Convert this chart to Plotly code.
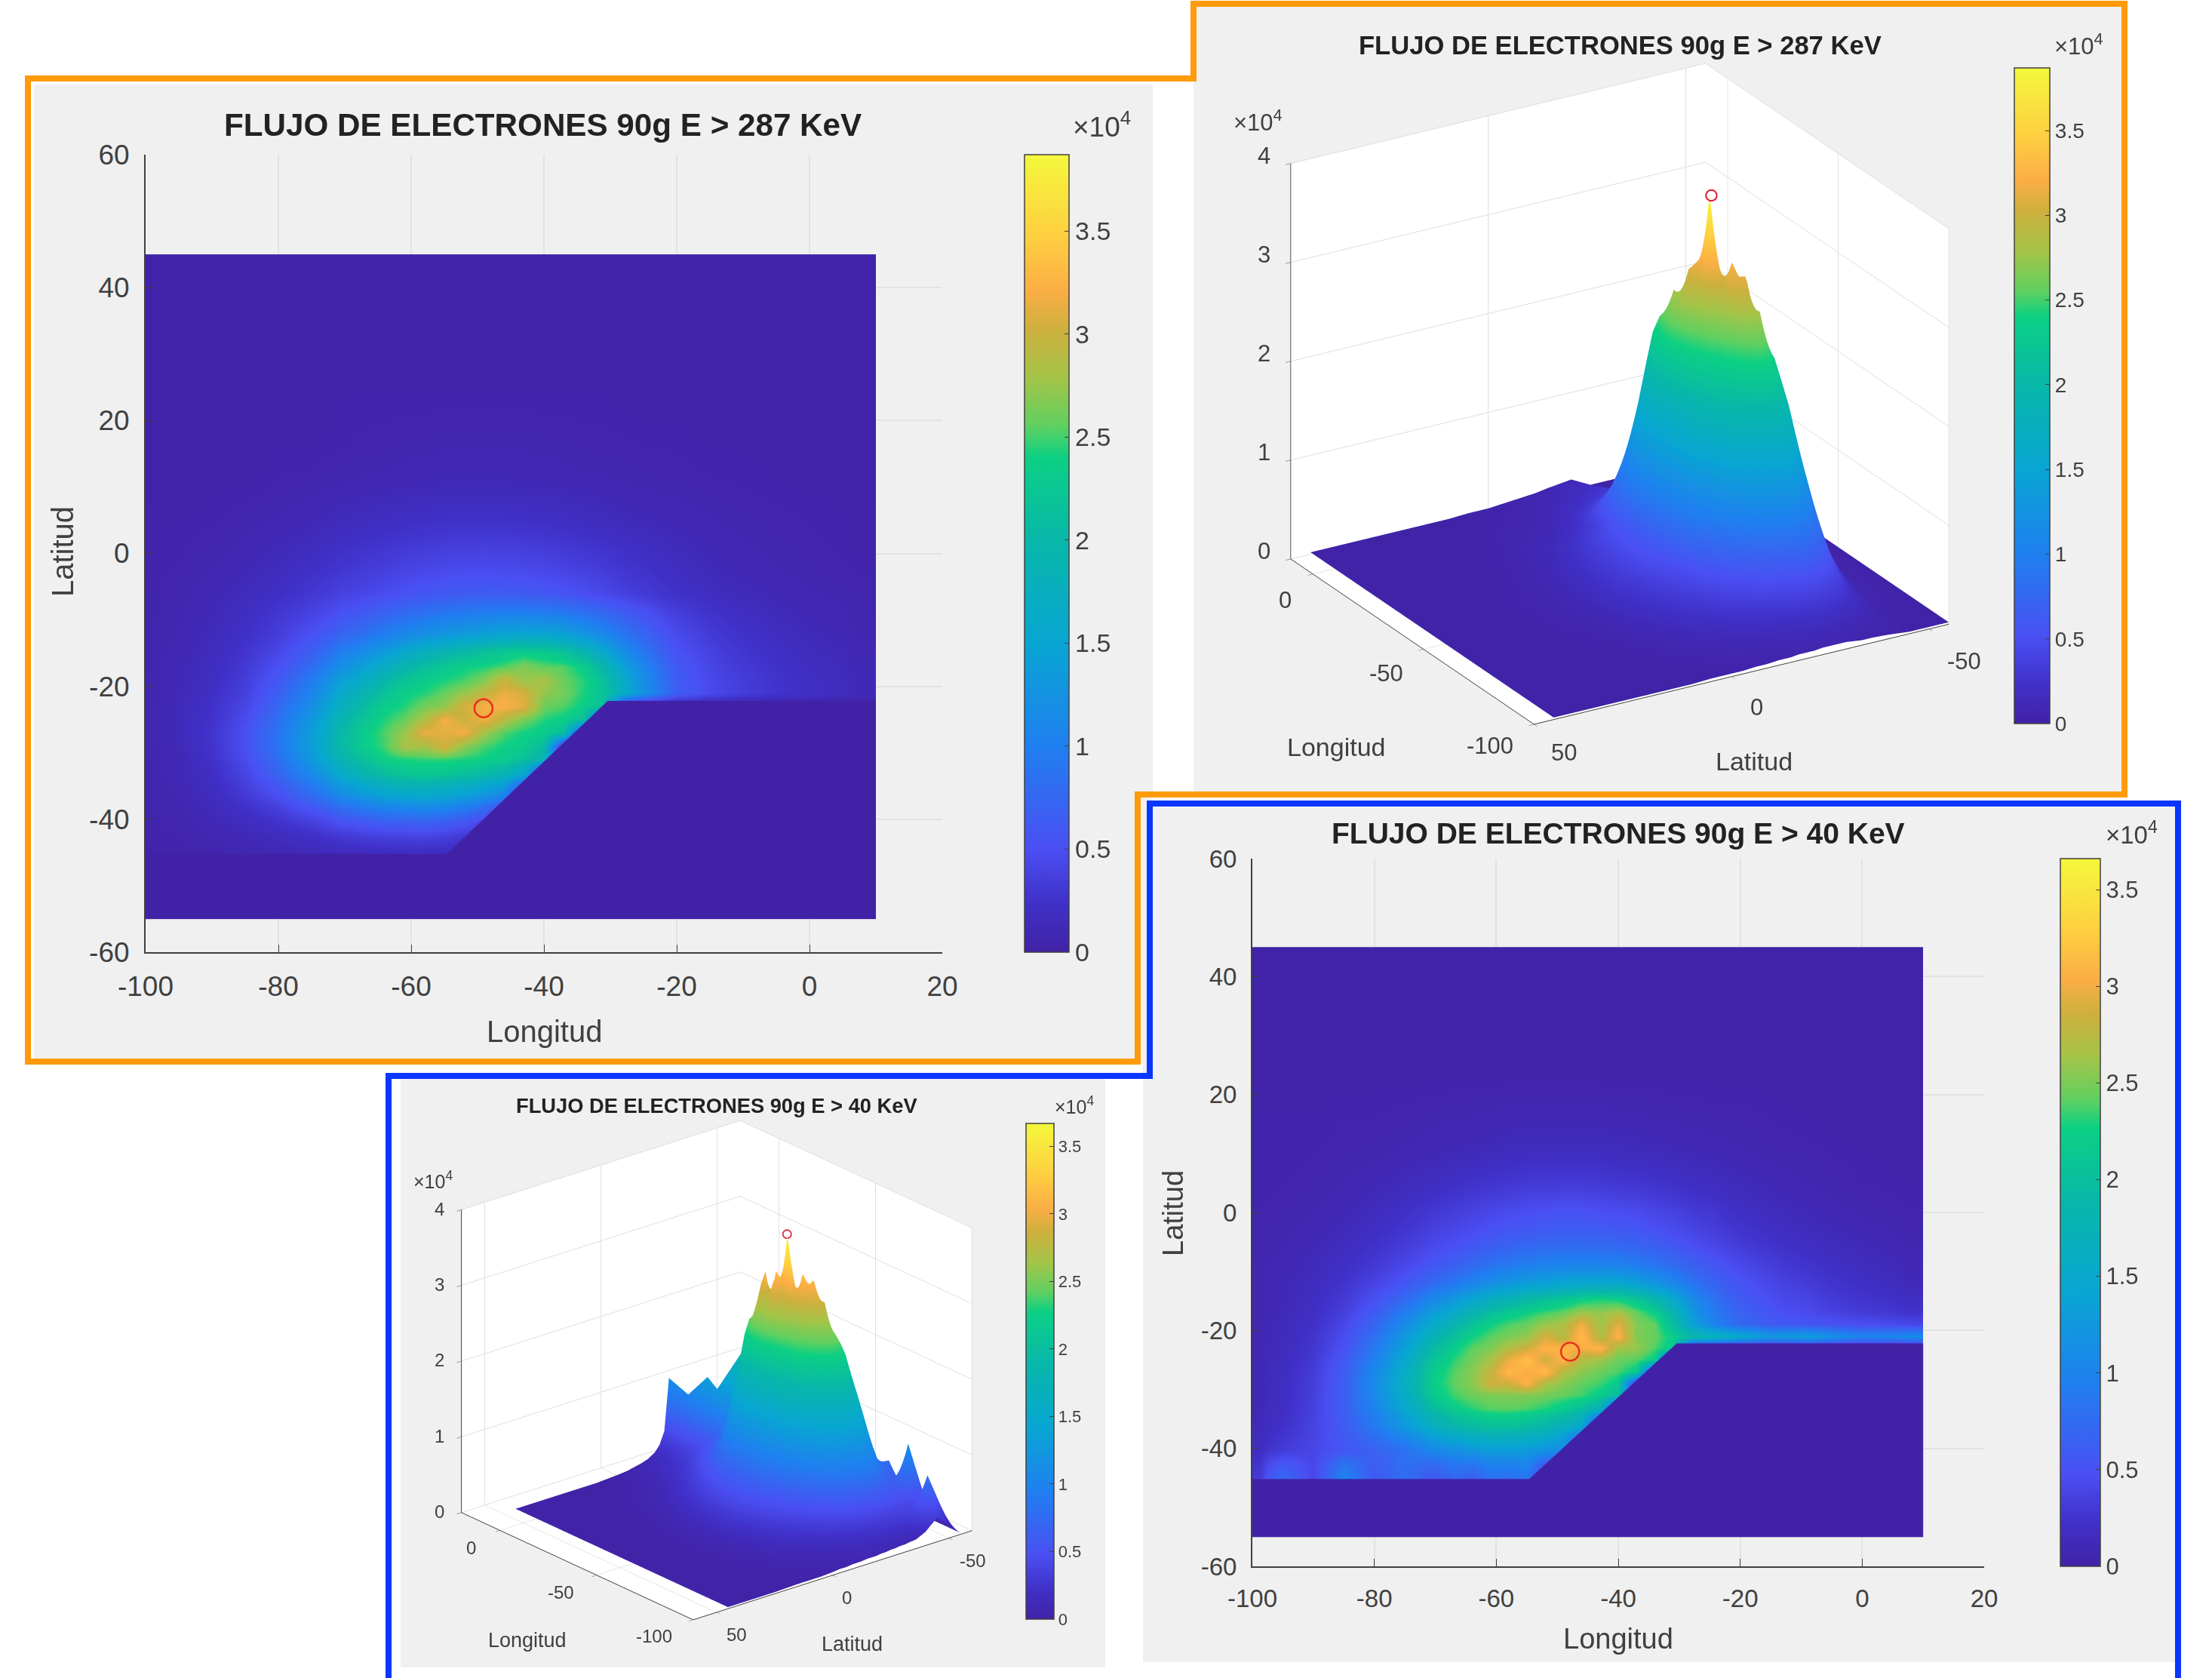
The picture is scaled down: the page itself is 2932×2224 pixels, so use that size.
import plotly.graph_objects as go

W, H = 2932, 2224
FLOOR = 0.02
lon = [-100,-95,-90,-85,-80,-75,-70,-67,-64,-61,-58,-55,-52,-49,-46,-43,-40,-37,-34,-31,-28,-25,-20,-15,-10,0,10]
lat = [45,35,25,15,10,5,0,-3,-6,-9,-12,-15,-17,-19,-21,-23,-25,-27,-29,-31,-33,-36,-40,-45,-55]

# Flux in units of 10^4; each row runs along lon, rows run along lat. Short rows end at the flat floor.
flux_287 = [
[],[],
[.02,.02,.02,.02,.02,.02,.03,.03,.03,.03,.03,.03,.03,.03,.03,.03,.03,.03,.03,.03,.02],
[.02,.02,.02,.02,.03,.03,.04,.05,.05,.06,.06,.07,.07,.07,.07,.07,.06,.06,.05,.05,.05,.04,.04,.03,.03],
[.02,.02,.03,.03,.05,.06,.08,.09,.10,.11,.12,.13,.13,.13,.13,.12,.12,.11,.10,.09,.08,.07,.06,.05,.04,.03],
[.03,.03,.04,.06,.08,.11,.15,.17,.19,.21,.22,.24,.24,.24,.24,.23,.22,.20,.18,.16,.14,.12,.10,.08,.06,.04,.03],
[.03,.04,.06,.09,.13,.18,.24,.27,.30,.33,.35,.37,.38,.39,.38,.37,.35,.33,.30,.27,.24,.20,.15,.11,.08,.05,.03],
[.03,.05,.08,.12,.17,.24,.31,.35,.39,.42,.46,.48,.50,.50,.49,.48,.46,.43,.39,.35,.30,.26,.19,.14,.10,.06,.04],
[.04,.06,.10,.15,.22,.30,.38,.43,.48,.53,.57,.61,.63,.64,.64,.62,.59,.55,.50,.44,.38,.32,.24,.18,.13,.08,.05],
[.04,.07,.12,.19,.29,.40,.54,.62,.72,.80,.86,.92,.96,1.00,1.02,1.02,1.00,.95,.86,.76,.64,.52,.36,.26,.18,.10,.06],
[.05,.08,.14,.23,.35,.52,.72,.85,.98,1.10,1.20,1.28,1.36,1.42,1.48,1.52,1.50,1.42,1.28,1.10,.90,.70,.46,.33,.23,.13,.07],
[.05,.09,.16,.27,.44,.68,1.00,1.18,1.38,1.58,1.76,1.92,2.04,2.16,2.26,2.32,2.28,2.16,1.92,1.58,1.20,.88,.54,.38,.27,.16,.09],
[.06,.10,.18,.31,.52,.82,1.22,1.46,1.70,1.92,2.12,2.26,2.38,2.42,2.52,2.66,2.55,2.52,2.32,1.96,1.46,1.04,.60,.42,.30,.18,.10],
[.06,.11,.19,.35,.60,.96,1.44,1.72,1.98,2.20,2.34,2.42,2.50,2.66,3.00,2.75,2.82,2.58,2.44,2.14,1.62,1.12,.64,.45,.32,.20,.11],
[.06,.12,.21,.38,.68,1.08,1.62,1.92,2.18,2.36,2.44,2.58,2.75,2.95,3.15,3.05,2.72,2.62,2.42,2.18,1.70,1.18,.66,.46,.33,.21,.12],
[.07,.13,.24,.42,.76,1.20,1.78,2.10,2.34,2.44,2.62,2.72,3.05,3.20,3.22,3.10,2.60,2.52,2.35,2.12],
[.07,.13,.25,.47,.84,1.32,1.94,2.24,2.44,2.58,2.85,3.20,3.00,3.18,2.90,2.62,2.44,2.35,2.12],
[.07,.13,.27,.51,.90,1.40,2.04,2.34,2.52,2.75,3.15,3.10,3.20,2.78,2.52,2.40,2.32,2.08],
[.07,.12,.26,.51,.90,1.42,2.04,2.34,2.50,2.82,2.80,3.05,2.70,2.50,2.40,2.32,2.05],
[.06,.11,.24,.47,.82,1.32,1.90,2.18,2.38,2.42,2.46,2.46,2.42,2.38,2.30,2.14,1.85],
[.05,.10,.21,.41,.72,1.14,1.64,1.92,2.10,2.22,2.26,2.22,2.14,2.02,1.86,1.55],
[.05,.08,.17,.32,.52,.82,1.18,1.38,1.52,1.60,1.62,1.56,1.46,1.30,1.10],
[.04,.06,.11,.17,.26,.38,.54,.62,.68,.70,.72,.68,.60,.42],
[.02,.03,.04,.05,.06,.07,.08,.08,.08,.08,.08,.07],
[],
]

flux_40 = [
[],[],[],
[.03,.03,.03,.04,.04,.05,.06,.07,.07,.08,.09,.09,.09,.09,.09,.09,.08,.08,.07,.06,.06,.05,.05,.04,.03],
[.03,.03,.04,.05,.06,.08,.10,.12,.13,.14,.16,.17,.17,.18,.18,.17,.16,.15,.14,.13,.11,.10,.08,.06,.05,.03],
[.03,.04,.05,.07,.10,.14,.18,.21,.24,.26,.28,.30,.31,.31,.31,.30,.28,.27,.25,.22,.19,.17,.13,.10,.07,.04,.03],
[.04,.05,.07,.10,.15,.21,.28,.32,.36,.40,.43,.46,.48,.49,.49,.47,.45,.43,.39,.35,.31,.27,.20,.15,.11,.06,.04],
[.05,.06,.09,.13,.19,.27,.36,.41,.46,.51,.55,.58,.60,.62,.61,.60,.58,.55,.50,.45,.40,.34,.26,.20,.15,.09,.05],
[.05,.07,.11,.17,.24,.33,.44,.50,.57,.63,.69,.73,.76,.77,.78,.76,.74,.70,.65,.58,.50,.43,.33,.26,.19,.12,.07],
[.06,.09,.13,.20,.30,.42,.56,.65,.74,.83,.90,.96,1.00,1.02,1.03,1.03,1.00,.94,.86,.76,.66,.56,.43,.33,.25,.16,.09],
[.06,.10,.16,.25,.38,.55,.75,.88,1.02,1.14,1.24,1.32,1.38,1.44,1.48,1.50,1.48,1.38,1.22,1.04,.86,.70,.52,.41,.31,.20,.12],
[.07,.11,.18,.30,.50,.76,1.06,1.26,1.46,1.64,1.80,1.92,2.04,2.14,2.24,2.30,2.26,2.14,1.88,1.52,1.14,.84,.60,.47,.38,.26,.18],
[.07,.12,.20,.35,.60,.94,1.32,1.56,1.80,2.00,2.16,2.26,2.36,2.44,2.62,2.58,2.68,2.44,2.24,1.80,1.28,.92,.66,.53,.44,.32,.26],
[.07,.13,.22,.41,.70,1.10,1.54,1.80,2.06,2.26,2.38,2.44,2.60,2.68,3.02,2.62,2.95,2.52,2.42,2.00,1.42,1.02,.73,.60,.55,.48,.42],
[.08,.14,.25,.46,.80,1.26,1.76,2.04,2.26,2.40,2.50,2.58,2.90,2.72,3.15,2.68,3.10,2.52,2.44,2.20,1.90,1.75,1.50,1.25,1.35,1.00,1.10],
[.08,.15,.27,.50,.88,1.38,1.92,2.20,2.42,2.50,2.72,2.85,3.10,3.10,3.02,3.12,2.62,2.60,2.38,2.14],
[.09,.16,.30,.56,.96,1.50,2.08,2.32,2.48,2.65,2.98,3.18,2.85,3.10,2.70,2.62,2.44,2.40,2.20],
[.09,.17,.32,.60,1.04,1.60,2.18,2.40,2.54,2.80,3.12,3.02,3.15,2.72,2.55,2.44,2.38,2.18],
[.10,.18,.34,.62,1.08,1.64,2.22,2.42,2.55,2.86,2.85,3.08,2.68,2.55,2.42,2.36,2.16],
[.10,.18,.35,.62,1.06,1.58,2.14,2.36,2.46,2.50,2.52,2.52,2.48,2.42,2.36,2.20,1.95],
[.11,.19,.36,.62,1.00,1.46,1.96,2.20,2.32,2.40,2.42,2.38,2.30,2.18,2.00,1.72],
[.12,.22,.38,.60,.88,1.26,1.64,1.84,1.96,2.02,2.02,1.98,1.86,1.68,1.48],
[.18,.32,.40,.54,.66,.80,1.04,1.14,1.24,1.30,1.32,1.28,1.20,1.04],
[.32,.82,.40,1.12,.55,.78,.45,.62,.50,.72,.66,.78],
[],
]

cut_lon = [-30.4,10,10,-100,-100,-54.6]
cut_lat = [-22.2,-22.2,-55,-55,-45.2,-45.2]

peak_287 = (-49.1,-23.3,3.87)
peak_40 = (-47.9,-23.6,3.66)
lon_ticks = [-100,-80,-60,-40,-20,0,20]
lat_ticks = [-60,-40,-20,0,20,40,60]
z_ticks = [0,1,2,3,4]
cb_ticks = [0,0.5,1,1.5,2,2.5,3,3.5]

parula = [[0,'#4122A6'],[.06,'#4030C8'],[.13,'#4A4FF2'],[.26,'#1F80F0'],[.39,'#08A6D2'],[.52,'#08B8A8'],
          [.62,'#0CD084'],[.66,'#60D060'],[.72,'#A4C448'],[.78,'#CDB03E'],[.83,'#FBAE45'],[.90,'#FED040'],[1,'#F4F83C']]
TXT = '#404040'
FONT = 'Liberation Sans'

def rows(m):
    return [r + [FLOOR]*(len(lon)-len(r)) for r in m][::-1]
lat_up = lat[::-1]
def edges(v):
    return [v[0]] + [(a+b)/2 for a,b in zip(v,v[1:])] + [v[-1]]
def fx(p): return p/W
def fy(p): return 1-p/H

fig = go.Figure()
shapes = []
for x0,y0,x1,y1 in [(45,112,1528,1410),(1582,8,2815,1052),(1515,1070,2885,2203),(531,1430,1465,2210)]:
    shapes.append(dict(type='rect',xref='paper',yref='paper',x0=fx(x0),x1=fx(x1),y0=fy(y1),y1=fy(y0),
                       fillcolor='#F0F0F0',line_width=0,layer='below'))
def path(pts, close=False):
    return 'M'+' L'.join(f'{fx(a):.5f},{fy(b):.5f}' for a,b in pts)+(' Z' if close else '')
shapes.append(dict(type='path',xref='paper',yref='paper',layer='above',line=dict(color='#FF9A0A',width=8),
    path=path([(37,1407),(37,104),(1582,104),(1582,5),(2816,5),(2816,1053),(1508,1053),(1508,1407)],True)))
shapes.append(dict(type='path',xref='paper',yref='paper',layer='above',line=dict(color='#0A36FF',width=8),
    path=path([(2887,2224),(2887,1065),(1524,1065),(1524,1426),(515,1426),(515,2224)])))

ann = []
def text(s,x,y,size,bold=False,color=TXT,angle=0):
    ann.append(dict(text=f'<b>{s}</b>' if bold else s,xref='paper',yref='paper',x=fx(x),y=fy(y),showarrow=False,
        xanchor='center',yanchor='middle',textangle=angle,font=dict(family=FONT,size=size,color=color)))

def cbar(x0,x1,y0,y1,size):
    return dict(x=fx(x0),xanchor='left',xpad=0,y=fy(y1),yanchor='bottom',ypad=0,
        thicknessmode='pixels',thickness=x1-x0,lenmode='pixels',len=y1-y0,
        tickvals=cb_ticks,ticktext=[str(v) for v in cb_ticks],ticks='inside',ticklen=6,tickcolor=TXT,
        tickfont=dict(family=FONT,size=size,color=TXT),outlinecolor=TXT,outlinewidth=1.5)

layout_axes = {}
def panel2d(i,m,peak,cmax,box,cb,fsize,cfsize,ts):
    xn,yn = ('x','y') if i==1 else (f'x{i}',f'y{i}')
    x0,x1,y0,y1 = box
    fig.add_trace(go.Heatmap(x=edges(lon),y=edges(lat_up),z=rows(m),zsmooth='best',colorscale=parula,
        zmin=0,zmax=cmax,hoverinfo='skip',xaxis=xn,yaxis=yn,colorbar=cbar(*cb,cfsize)))
    fig.add_trace(go.Scatter(x=cut_lon,y=cut_lat,fill='toself',fillcolor='#4122A6',mode='lines',line_width=0,
        hoverinfo='skip',showlegend=False,xaxis=xn,yaxis=yn))
    fig.add_trace(go.Scatter(x=[peak[0]],y=[peak[1]],mode='markers',hoverinfo='skip',showlegend=False,xaxis=xn,yaxis=yn,
        marker=dict(symbol='circle-open',size=ts['ms'],color='#E8301C',line=dict(width=2.5,color='#E8301C'))))
    common = dict(showline=True,linecolor=TXT,linewidth=2,ticks='inside',ticklen=10,tickcolor=TXT,
        gridcolor='#E2E2E2',gridwidth=2,zeroline=False,tickfont=dict(family=FONT,size=fsize,color=TXT),ticklabelstandoff=ts['so'])
    layout_axes[xn.replace('x','xaxis')] = dict(domain=[fx(x0),fx(x1)],range=[-100,20],anchor=yn,tickvals=lon_ticks,
        ticktext=[str(v) for v in lon_ticks],**common)
    layout_axes[yn.replace('y','yaxis')] = dict(domain=[fy(y1),fy(y0)],range=[-60,60],anchor=xn,tickvals=lat_ticks,
        ticktext=[str(v) for v in lat_ticks],**common)

panel2d(1,flux_287,peak_287,3.87,(193,1249,205,1262),(1358,1417,205,1262),37,34,dict(ms=24,so=12))
panel2d(2,flux_40,peak_40,3.66,(1660,2630,1138,2076),(2731,2784,1138,2076),33,31,dict(ms=24,so=12))

def panel3d(name,m,peak,cmax,dom,eye,aspect,xr,yr,cb,cfsize,fs,ms,zshift,lonshift,latshift):
    zz = rows(m)
    # the surface reaches the marked peak at the grid node nearest to it
    j = min(range(len(lon)),key=lambda k:abs(lon[k]-peak[0]))
    i = min(range(len(lat_up)),key=lambda k:abs(lat_up[k]-peak[1]))
    zz[i][j] = peak[2]
    fig.add_trace(go.Surface(x=lon,y=lat_up,z=zz,colorscale=parula,cmin=0,cmax=cmax,scene=name,hoverinfo='skip',
        lighting=dict(ambient=1,diffuse=0,specular=0,roughness=1,fresnel=0),colorbar=cbar(*cb,cfsize)))
    fig.add_trace(go.Scatter3d(x=[peak[0]],y=[peak[1]],z=[peak[2]],mode='markers',scene=name,hoverinfo='skip',showlegend=False,
        marker=dict(symbol='circle-open',size=ms,color='#E0203C',line=dict(width=2,color='#E0203C'))))
    a = []
    f = dict(family=FONT,size=fs,color=TXT)
    def lab(x,y,z,t,s):
        a.append(dict(x=x,y=y,z=z,text=t,showarrow=False,xanchor='center',yanchor='middle',xshift=s[0],yshift=-s[1],font=f))
    for v in z_ticks: lab(xr[1],yr[1],v,str(v),zshift)
    for v,s in zip([0,-50,-100],lonshift): lab(v,yr[1],0,str(v),s)
    for v,s in zip([50,0,-50],latshift): lab(xr[0],v,0,str(v),s)
    ax = dict(showbackground=True,backgroundcolor='white',gridcolor='#DEDEDE',gridwidth=2,showline=True,linecolor=TXT,linewidth=2,
        zeroline=False,showspikes=False,showticklabels=False,ticks='outside',ticklen=8,tickcolor=TXT,title='')
    layout_axes[name] = dict(domain=dict(x=[fx(dom[0]),fx(dom[1])],y=[fy(dom[3]),fy(dom[2])]),bgcolor='rgba(0,0,0,0)',
        aspectmode='manual',aspectratio=dict(x=aspect[0],y=aspect[1],z=aspect[2]),
        camera=dict(eye=dict(x=eye[0],y=eye[1],z=eye[2]),up=dict(x=0,y=0,z=1),center=dict(x=0,y=0,z=0),projection=dict(type='orthographic')),
        xaxis=dict(range=xr,tickvals=[-100,-50,0],**ax),yaxis=dict(range=yr,tickvals=[-50,0,50],**ax),zaxis=dict(range=[0,4],tickvals=z_ticks,**ax),
        annotations=a)

KB, KD = 1.408, 1.45
SB, SD = 1.40, 1.373
panel3d('scene',flux_287,peak_287,3.87,(1697,2597,72,972),(-.7855*KB,.468*KB,.4048*KB),(1*SB,1.016*SB,.91*SB),[-100,10],[-55,50],
        (2670,2717,90,959),28,31,9,(-35,-10),[(-37,35),(-49,32),(-58,29)],[(40,38),(33,41),(47,43)])
panel3d('scene2',flux_40,peak_40,3.67,(600,1300,1466,2166),(-.710*KD,.590*KD,.3847*KD),(1*SD,1*SD,.905*SD),[-100,20],[-60,60],
        (1360,1397,1489,2146),22,24,7,(-29,-1),[(-38,23),(-47,23),(-52,22)],[(27,29),(19,30),(32,30)])

T287='FLUJO DE ELECTRONES 90g E &gt; 287 KeV'; T40='FLUJO DE ELECTRONES 90g E &gt; 40 KeV'
text(T287,719,166,42.2,True,'#222222'); text(T287,2147,60,34.6,True,'#222222')
text(T40,2145,1104,39,True,'#222222'); text(T40,950,1465,27.3,True,'#222222')
text('Longitud',721,1367,40); text('Latitud',83,731,40,angle=-90)
text('Longitud',2145,2172,38); text('Latitud',1555,1608,38,angle=-90)
text('Longitud',1771,990,34); text('Latitud',2325,1009,34)
text('Longitud',699,2174,27); text('Latitud',1129,2179,27)
E='×10<sup>4</sup>'
text(E,1460,165,37); text(E,2755,59,31); text(E,2825,1104,33); text(E,1424,1465,25)
text(E,1667,160,31); text(E,574,1564,25)

fig.update_layout(width=W,height=H,margin=dict(l=0,r=0,t=0,b=0,autoexpand=False),paper_bgcolor='white',plot_bgcolor='white',showlegend=False,
    shapes=shapes,annotations=ann,font=dict(family=FONT),**layout_axes)
fig.write_html('out.html',post_script="document.body.style.margin='0';",config=dict(displayModeBar=False))
